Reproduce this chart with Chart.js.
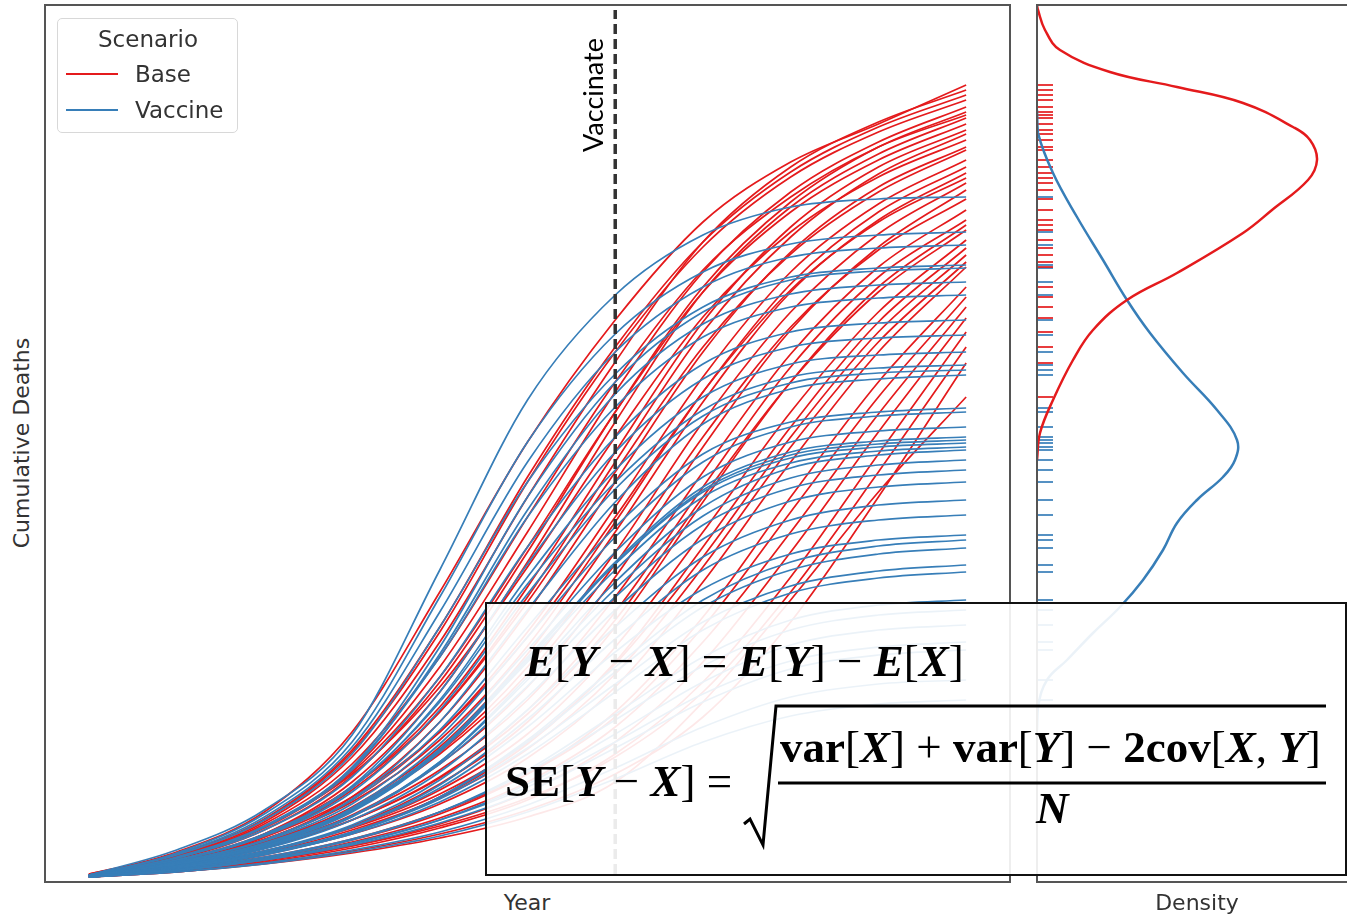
<!DOCTYPE html>
<html>
<head>
<meta charset="utf-8">
<script src="https://cdn.jsdelivr.net/npm/chart.js@4.4.1/dist/chart.umd.min.js"></script>
<style>
body { margin: 0; background: #fff; }
#wrap { position: relative; width: 1347px; height: 916px; overflow: hidden; font-family: "DejaVu Sans", sans-serif; color: #333; }
canvas { position: absolute; }
.frame { position: absolute; box-sizing: border-box; border: 2px solid #555; }
.lbl { position: absolute; font-size: 22px; white-space: nowrap; transform: translate(-50%, -50%); }
#legend { position: absolute; left: 57px; top: 18px; width: 181px; height: 115px; box-sizing: border-box;
  border: 1px solid #d8d8d8; border-radius: 5px; background: rgba(255,255,255,0.85); }
.lg { position: absolute; font-size: 23px; white-space: nowrap; }
.swatch { position: absolute; left: 8px; width: 52px; height: 2px; }
#formula { position: absolute; left: 485px; top: 602px; width: 862px; height: 274px; box-sizing: border-box;
  border: 2px solid #111; background: rgba(255,255,255,0.9); }
.f { position: absolute; font-family: "Liberation Serif", serif; font-size: 45px; line-height: 45px; color: #000; white-space: nowrap; }
.b { font-weight: bold; }
.bi { font-weight: bold; font-style: italic; }
</style>
</head>
<body>
<div id="wrap">
  <canvas id="main" width="965" height="877" style="left:45px;top:5px"></canvas>
  <canvas id="dens" width="310" height="877" style="left:1037px;top:5px"></canvas>
  <div class="frame" style="left:44px;top:4px;width:967px;height:879px"></div>
  <div class="frame" style="left:1036px;top:4px;width:340px;height:879px"></div>

  <div class="lbl" style="left:527px;top:902px">Year</div>
  <div class="lbl" style="left:1197px;top:902px">Density</div>
  <div class="lbl" style="left:21px;top:443px;transform:translate(-50%,-50%) rotate(-90deg)">Cumulative Deaths</div>
  <div class="lbl" style="left:592px;top:95px;font-family:Lato,sans-serif;font-size:27px;color:#000;transform:translate(-50%,-50%) rotate(-90deg)">Vaccinate</div>

  <div id="legend">
    <div class="lg" style="left:90px;top:20px;transform:translate(-50%,-50%)">Scenario</div>
    <div class="swatch" style="top:54px;background:#e41a1c"></div>
    <div class="lg" style="left:77px;top:55px;transform:translateY(-50%)">Base</div>
    <div class="swatch" style="top:90px;background:#377eb8"></div>
    <div class="lg" style="left:77px;top:91px;transform:translateY(-50%)">Vaccine</div>
  </div>

  <div id="formula"></div>
  <div class="f" style="left:525px;top:639px"><span class="bi">E</span>[<span class="bi">Y</span> − <span class="bi">X</span>] = <span class="bi">E</span>[<span class="bi">Y</span>] − <span class="bi">E</span>[<span class="bi">X</span>]</div>
  <div class="f" style="left:505px;top:759px"><span class="b">SE</span>[<span class="bi">Y</span> − <span class="bi">X</span>] =</div>
  <svg style="position:absolute;left:0;top:0" width="1347" height="916">
    <polyline points="744,824 750,819 763,845 776,706 1326,706" fill="none" stroke="#000" stroke-width="3"/>
    <line x1="778" y1="783" x2="1326" y2="783" stroke="#000" stroke-width="3"/>
  </svg>
  <div class="f" style="left:780px;top:725px"><span class="b">var</span>[<span class="bi">X</span>] + <span class="b">var</span>[<span class="bi">Y</span>] − <span class="b">2cov</span>[<span class="bi">X</span>, <span class="bi">Y</span>]</div>
  <div class="f" style="left:1036px;top:786px"><span class="bi">N</span></div>
</div>

<script>
// years since start of the outbreak
const years = [0, 1, 2, 3, 4, 5, 6, 7, 8, 9, 10];
const vaccinateYear = 6;

// cumulative deaths per simulated run, Base scenario
const baseRuns = [
  [7, 30, 70, 150, 290, 440, 562, 660, 720, 758, 797],
  [6, 26, 60, 125, 240, 385, 520, 640, 715, 760, 792],
  [6, 27, 63, 132, 255, 405, 535, 640, 710, 755, 787],
  [8, 28, 62, 130, 250, 400, 530, 635, 705, 750, 782],
  [6, 24, 55, 112, 215, 350, 490, 610, 690, 740, 775],
  [7, 23, 52, 106, 200, 330, 470, 595, 680, 735, 770],
  [7, 25, 58, 118, 225, 365, 500, 612, 685, 735, 767],
  [5, 20, 48, 100, 190, 320, 460, 590, 675, 728, 764],
  [7, 24, 54, 110, 205, 335, 470, 590, 670, 722, 758],
  [6, 21, 47, 95, 175, 295, 430, 560, 655, 715, 752],
  [5, 20, 45, 92, 170, 285, 420, 550, 645, 708, 748],
  [8, 26, 56, 108, 195, 315, 445, 565, 650, 705, 742],
  [5, 18, 42, 85, 160, 270, 400, 530, 630, 695, 735],
  [7, 22, 48, 95, 170, 280, 410, 535, 628, 690, 732],
  [6, 19, 42, 82, 150, 250, 375, 505, 610, 678, 722],
  [6, 20, 43, 80, 142, 236, 360, 490, 598, 670, 715],
  [5, 17, 38, 75, 135, 228, 350, 480, 590, 662, 709],
  [7, 21, 45, 85, 150, 245, 365, 490, 592, 660, 704],
  [6, 18, 39, 74, 130, 215, 330, 460, 570, 648, 699],
  [5, 16, 35, 67, 118, 195, 305, 435, 552, 635, 692],
  [7, 19, 40, 74, 128, 208, 318, 445, 555, 632, 683],
  [7, 18, 37, 66, 112, 182, 285, 410, 528, 615, 672],
  [6, 16, 34, 62, 105, 172, 270, 395, 515, 605, 662],
  [5, 14, 30, 56, 98, 160, 255, 380, 500, 595, 657],
  [7, 17, 35, 62, 104, 168, 262, 385, 500, 590, 652],
  [6, 15, 31, 55, 92, 148, 235, 350, 470, 570, 642],
  [5, 13, 27, 50, 85, 138, 220, 335, 455, 560, 634],
  [7, 16, 31, 54, 88, 140, 218, 325, 445, 550, 627],
  [5, 14, 29, 52, 84, 133, 208, 315, 435, 540, 620],
  [6, 14, 28, 48, 78, 124, 195, 300, 420, 530, 615],
  [5, 12, 24, 42, 68, 108, 170, 265, 385, 500, 595],
  [6, 13, 25, 43, 70, 108, 165, 255, 370, 485, 585],
  [6, 12, 23, 40, 64, 100, 155, 240, 350, 468, 575],
  [5, 11, 21, 36, 58, 90, 140, 220, 330, 450, 564],
  [5, 11, 20, 34, 54, 82, 128, 200, 305, 428, 550],
  [6, 12, 22, 36, 56, 84, 125, 190, 290, 410, 535],
  [5, 10, 19, 31, 48, 72, 108, 165, 260, 385, 519],
  [5, 10, 18, 29, 44, 65, 100, 180, 282, 390, 485]
];

// cumulative deaths per simulated run, Vaccine scenario
const vaccineRuns = [
  [7, 32, 72, 147, 312, 482, 587, 647, 675, 683, 685],
  [6, 29, 68, 140, 285, 440, 548, 610, 638, 647, 650],
  [6, 28, 65, 135, 270, 420, 530, 595, 625, 634, 637],
  [7, 27, 62, 128, 255, 400, 508, 575, 605, 614, 617],
  [5, 24, 55, 115, 235, 385, 500, 570, 602, 611, 614],
  [5, 24, 55, 112, 228, 372, 488, 558, 588, 597, 600],
  [6, 25, 56, 114, 225, 365, 475, 545, 575, 584, 587],
  [7, 24, 52, 105, 205, 335, 445, 518, 550, 559, 562],
  [5, 21, 47, 96, 190, 318, 430, 503, 535, 544, 547],
  [6, 21, 47, 94, 182, 305, 412, 485, 518, 527, 530],
  [6, 22, 48, 95, 180, 298, 400, 472, 505, 514, 517],
  [7, 22, 46, 90, 172, 288, 393, 466, 499, 509, 512],
  [5, 19, 42, 83, 160, 272, 380, 458, 493, 503, 507],
  [6, 20, 42, 82, 152, 255, 355, 428, 460, 470, 474],
  [7, 20, 41, 78, 145, 245, 345, 420, 455, 466, 470],
  [5, 18, 38, 74, 138, 232, 330, 405, 440, 451, 455],
  [6, 18, 37, 71, 131, 224, 320, 395, 430, 441, 445],
  [5, 17, 36, 70, 130, 222, 318, 392, 427, 438, 442],
  [6, 18, 38, 72, 133, 225, 318, 390, 424, 435, 439],
  [7, 19, 39, 73, 132, 220, 312, 385, 419, 431, 435],
  [5, 16, 34, 65, 120, 205, 300, 375, 414, 427, 432],
  [6, 17, 35, 66, 120, 202, 293, 366, 404, 417, 422],
  [7, 18, 36, 66, 118, 196, 285, 357, 394, 407, 412],
  [5, 16, 33, 62, 110, 185, 272, 343, 381, 395, 400],
  [5, 15, 31, 57, 102, 172, 255, 325, 362, 377, 382],
  [6, 15, 30, 55, 97, 163, 243, 312, 348, 362, 367],
  [7, 16, 31, 55, 94, 155, 230, 293, 328, 342, 347],
  [5, 13, 27, 49, 85, 142, 215, 282, 320, 336, 342],
  [6, 14, 28, 50, 85, 140, 210, 275, 312, 328, 334],
  [7, 15, 29, 50, 83, 134, 198, 260, 296, 311, 317],
  [6, 14, 28, 48, 80, 128, 190, 252, 289, 304, 310],
  [5, 12, 24, 42, 70, 112, 168, 225, 262, 277, 282],
  [6, 13, 25, 43, 70, 110, 162, 216, 252, 267, 272],
  [5, 11, 22, 38, 62, 98, 148, 200, 237, 252, 257],
  [5, 12, 23, 39, 62, 95, 140, 188, 221, 235, 240],
  [6, 12, 22, 37, 59, 90, 134, 180, 213, 227, 232],
  [5, 10, 19, 32, 50, 77, 114, 155, 185, 198, 202],
  [5, 10, 18, 30, 46, 70, 103, 140, 166, 178, 182]
];

// density of final deaths
const baseDensityLevels = [877, 872, 852, 832, 810, 795, 779, 755, 742, 722, 702, 672, 649, 609, 582, 552, 522, 482, 449, 422];
const baseDensity = [0, 0.1, 0.8, 2.3, 7.3, 14, 20.6, 25.6, 27.3, 28, 27.1, 23.5, 20.6, 14, 9, 5.6, 3.6, 1.6, 0.3, 0];
const vaccineDensityLevels = [772, 749, 709, 665, 622, 582, 549, 509, 472, 442, 422, 405, 382, 359, 332, 302, 275, 249, 222, 202, 175, 152];
const vaccineDensity = [0, 0.1, 1.6, 4.0, 6.6, 9.0, 11.3, 14.6, 18.0, 20.0, 19.8, 18.6, 16.0, 14.0, 12.6, 10.6, 8.3, 5.6, 3.0, 1.0, 0.1, 0];

const RED = '#e41a1c';
const BLUE = '#377eb8';
const yMax = 877;

const toPoints = run => years.map((x, i) => ({ x: x, y: run[i] }));
const lineStyle = color => ({ borderColor: color, borderWidth: 1.7, pointRadius: 0, fill: false, cubicInterpolationMode: 'monotone' });

// Base runs first, Vaccine runs drawn over them
const datasets = [];
baseRuns.forEach(r => datasets.push(Object.assign({ label: 'Base', data: toPoints(r) }, lineStyle(RED))));
vaccineRuns.forEach(r => datasets.push(Object.assign({ label: 'Vaccine', data: toPoints(r) }, lineStyle(BLUE))));
datasets.push({
  label: 'Vaccinate',
  data: [{ x: vaccinateYear, y: 8 }, { x: vaccinateYear, y: yMax - 5 }],
  borderColor: '#333', borderWidth: 3.5, borderDash: [10, 5], pointRadius: 0
});
// Chart.js draws the first dataset on top, so reverse the list
datasets.reverse();

new Chart(document.getElementById('main'), {
  type: 'line',
  data: { datasets: datasets },
  options: {
    responsive: false,
    animation: false,
    events: [],
    layout: { padding: 0, autoPadding: false },
    plugins: { legend: { display: false }, tooltip: { enabled: false } },
    scales: {
      x: { type: 'linear', min: -0.5, max: 10.5, display: false },
      y: { min: 0, max: yMax, display: false }
    }
  }
});

// side panel: density curves + rug of final values
const finals = runs => runs.map(r => ({ x: 0.8, y: r[r.length - 1] }));
const densPoints = (levels, vals) => levels.map((y, i) => ({ x: vals[i], y: y }));

new Chart(document.getElementById('dens'), {
  type: 'scatter',
  data: {
    datasets: [
      { label: 'Base density', data: densPoints(baseDensityLevels, baseDensity), showLine: true, tension: 0.4,
        borderColor: RED, borderWidth: 2.5, pointRadius: 0 },
      { label: 'Vaccine density', data: densPoints(vaccineDensityLevels, vaccineDensity), showLine: true, tension: 0.4,
        borderColor: BLUE, borderWidth: 2.5, pointRadius: 0 },
      { label: 'Base rug', data: finals(baseRuns), pointStyle: 'line', pointRadius: 8, borderWidth: 2,
        borderColor: 'rgba(228,26,28,0.85)', backgroundColor: 'rgba(228,26,28,0.85)' },
      { label: 'Vaccine rug', data: finals(vaccineRuns), pointStyle: 'line', pointRadius: 8, borderWidth: 2,
        borderColor: 'rgba(55,126,184,0.85)', backgroundColor: 'rgba(55,126,184,0.85)' }
    ]
  },
  options: {
    responsive: false,
    animation: false,
    events: [],
    layout: { padding: 0, autoPadding: false },
    plugins: { legend: { display: false }, tooltip: { enabled: false } },
    scales: {
      x: { type: 'linear', min: 0, max: 31, display: false },
      y: { min: 0, max: yMax, display: false }
    }
  }
});
</script>
</body>
</html>
